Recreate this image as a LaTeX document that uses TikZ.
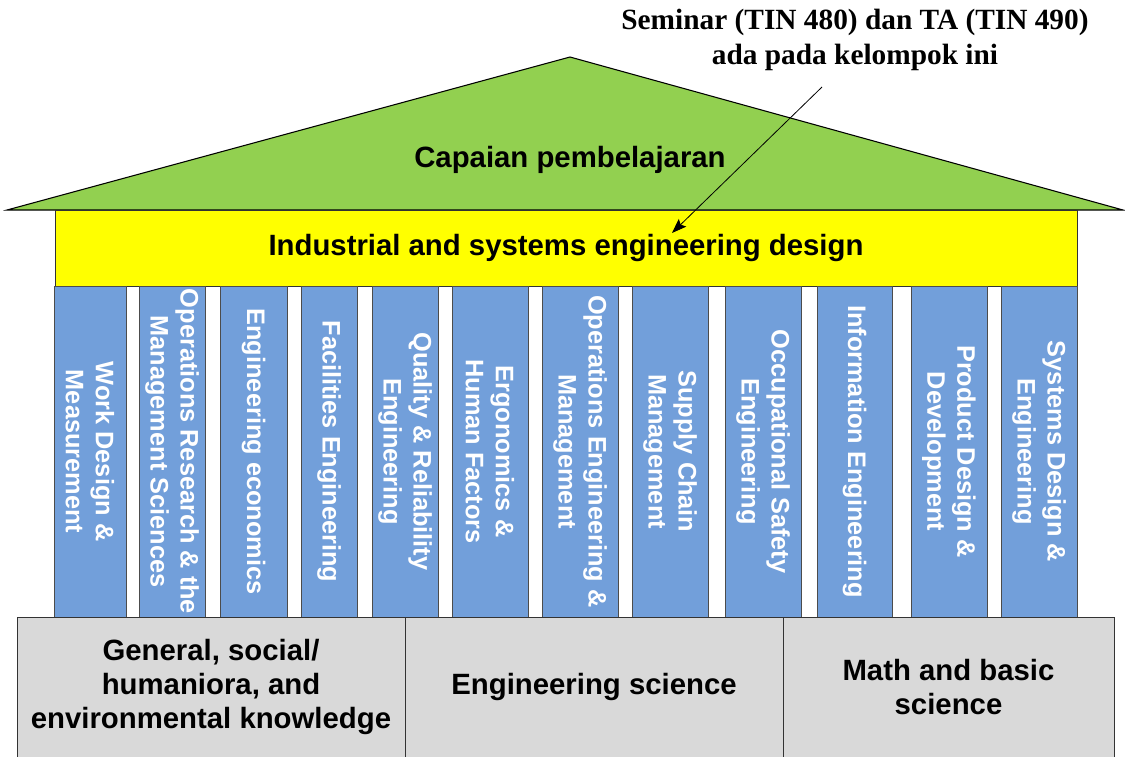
\documentclass[tikz,border=0pt]{standalone}
\usepackage{fontspec}
\setmainfont{Liberation Sans}
\newfontfamily\notefont{Liberation Serif}
\usetikzlibrary{arrows,arrows.meta}
\definecolor{roofgreen}{RGB}{146,208,80}
\definecolor{bandyellow}{RGB}{255,255,0}
\definecolor{pillarblue}{RGB}{114,159,218}
\definecolor{basegray}{RGB}{217,217,217}

\begin{document}
\begin{tikzpicture}[x=0.75pt,y=-0.75pt,>={Stealth[length=11pt,width=8pt,inset=2pt]}]

		  				\tikzstyle{pillar}=[rectangle,draw=black!70,fill=pillarblue,rotate=-90,inner sep=0pt,outer sep=0pt,minimum width=248.25pt,text=white,align=center,font=\fontsize{19}{22.5}\selectfont\bfseries]
						\tikzstyle{band}=[rectangle,draw=black!80,fill=bandyellow,inner sep=0pt,minimum width=766.5pt,minimum height=57pt,font=\fontsize{22}{26}\selectfont\bfseries]
						\tikzstyle{basecell}=[rectangle,draw=black!80,fill=basegray,inner sep=0pt,minimum height=105pt,align=center,font=\fontsize{22}{25.5}\selectfont\bfseries]
						\tikzstyle{note}=[align=center,inner sep=0pt,font=\notefont\fontsize{22}{26.25}\selectfont\bfseries]
						\useasboundingbox (0,0) rectangle (1125,757);
						% roof
						\draw [fill=roofgreen,line width=0.8pt] (7,210) -- (570,57) -- (1123,210) -- cycle;
	    				\node [anchor=base,font=\fontsize{22}{26}\selectfont\bfseries] (roof) at (570,167) {Capaian pembelajaran};
	    				\node [band] (design) at (566,248) {Industrial and systems engineering design};
						% pillars
   						\node [pillar,minimum height=54pt] (p1) at (90,451.5) {Work Design \&\\Measurement};
   						\node [pillar,minimum height=49.5pt] (p2) at (172,451.5) {Operations Research \& the\\Management Sciences};
   						\node [pillar,minimum height=50.25pt] (p3) at (253.5,451.5) {Engineering economics};
   						\node [pillar,minimum height=42pt] (p4) at (329,451.5) {Facilities Engineering};
   						\node [pillar,minimum height=49.5pt] (p5) at (405,451.5) {Quality \& Reliability\\Engineering};
   						\node [pillar,minimum height=57pt] (p6) at (490,451.5) {Ergonomics \&\\Human Factors};
   						\node [pillar,minimum height=57pt] (p7) at (580,451.5) {Operations Engineering \&\\Management};
   						\node [pillar,minimum height=57pt] (p8) at (670,451.5) {Supply Chain\\Management};
   						\node [pillar,minimum height=57pt] (p9) at (763,451.5) {Occupational Safety\\Engineering};
   						\node [pillar,minimum height=56.25pt] (p10) at (854.5,451.5) {Information Engineering};
   						\node [pillar,minimum height=57pt] (p11) at (949,451.5) {Product Design \&\\Development};
   						\node [pillar,minimum height=57pt] (p12) at (1039,451.5) {Systems Design \&\\Engineering};
						% foundation
		    			\node [basecell,minimum width=291pt] (general) at (211,687) {General, social/\\humaniora, and\\environmental knowledge};
		    			\node [basecell,minimum width=283.5pt] (engsci) at (594,687) {Engineering science};
		    			\node [basecell,minimum width=248.25pt] (math) at (948.5,687) {Math and basic\\science};
						% annotation
	    				\node [note] (seminar) at (855,40) {Seminar (TIN 480) dan TA (TIN 490)\\ada pada kelompok ini};
						\coordinate (tail) at (822,87);
						\coordinate (tip) at (672,233);
						\draw [->,line width=0.6pt] (tail) -- (tip);
					\end{tikzpicture}
\end{document}
